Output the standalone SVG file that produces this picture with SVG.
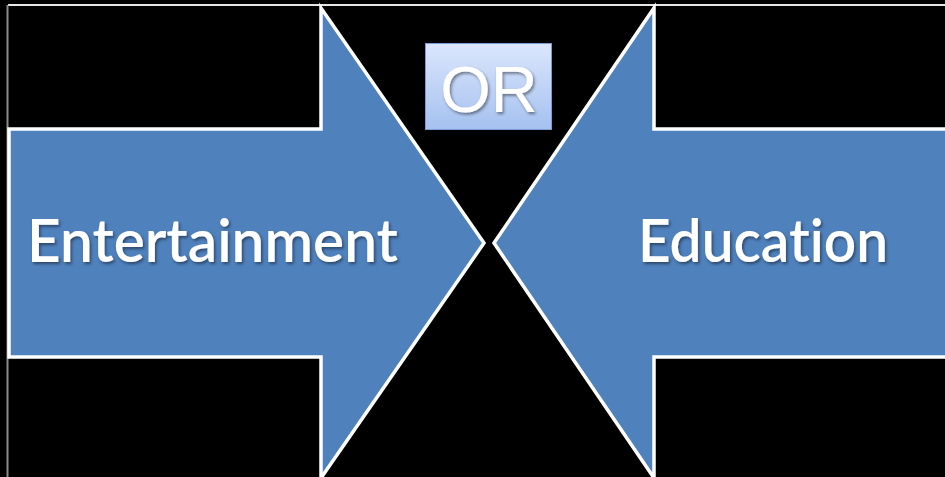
<svg xmlns="http://www.w3.org/2000/svg" width="945" height="477" viewBox="0 0 945 477">
  <defs>
    <linearGradient id="orGrad" x1="0" y1="0" x2="0" y2="1">
      <stop offset="0" stop-color="#dbe6fc"/>
      <stop offset="1" stop-color="#a5c1f0"/>
    </linearGradient>
    <filter id="shadow" x="-10%" y="-20%" width="130%" height="150%">
      <feDropShadow dx="1.5" dy="2" stdDeviation="1.5" flood-color="#000" flood-opacity="0.45"/>
    </filter>
  </defs>
  <style>
    .arrow { fill: #4f81bd; stroke: #ffffff; stroke-width: 3.5; stroke-linejoin: miter; }
    .label { fill: #ffffff; font-family: Lato, "Open Sans", sans-serif; font-size: 59px; font-weight: 600; font-variant-ligatures: none; font-feature-settings: "liga" 0; filter: url(#shadow); }
    .or { fill: #ffffff; font-family: "Liberation Sans", Arial, sans-serif; font-size: 65px; filter: url(#shadow); }
  </style>
  <rect width="945" height="477" fill="#000000"/>
  <g id="frame">
    <line x1="8" y1="5" x2="945" y2="5" stroke="#e6e6e6" stroke-width="2"/>
    <line x1="7.5" y1="5" x2="7.5" y2="477" stroke="#8c8c8c" stroke-width="2"/>
  </g>
  <g id="entertainment">
    <polygon class="arrow" points="9,129 321,129 321,8 484,243 321,478 321,357 9,357"/>
    <text class="label" x="27" y="262" textLength="371" lengthAdjust="spacingAndGlyphs">Entertainment</text>
  </g>
  <g id="education">
    <polygon class="arrow" points="494,243 654,8 654,129 950,129 950,357 654,357 654,478"/>
    <text class="label" x="638" y="262" textLength="250" lengthAdjust="spacingAndGlyphs">Education</text>
  </g>
  <g id="or">
    <rect x="425.5" y="43.5" width="126" height="86" fill="url(#orGrad)" stroke="#7b9bd6" stroke-width="1"/>
    <text class="or" x="489" y="112" text-anchor="middle">OR</text>
  </g>
</svg>
